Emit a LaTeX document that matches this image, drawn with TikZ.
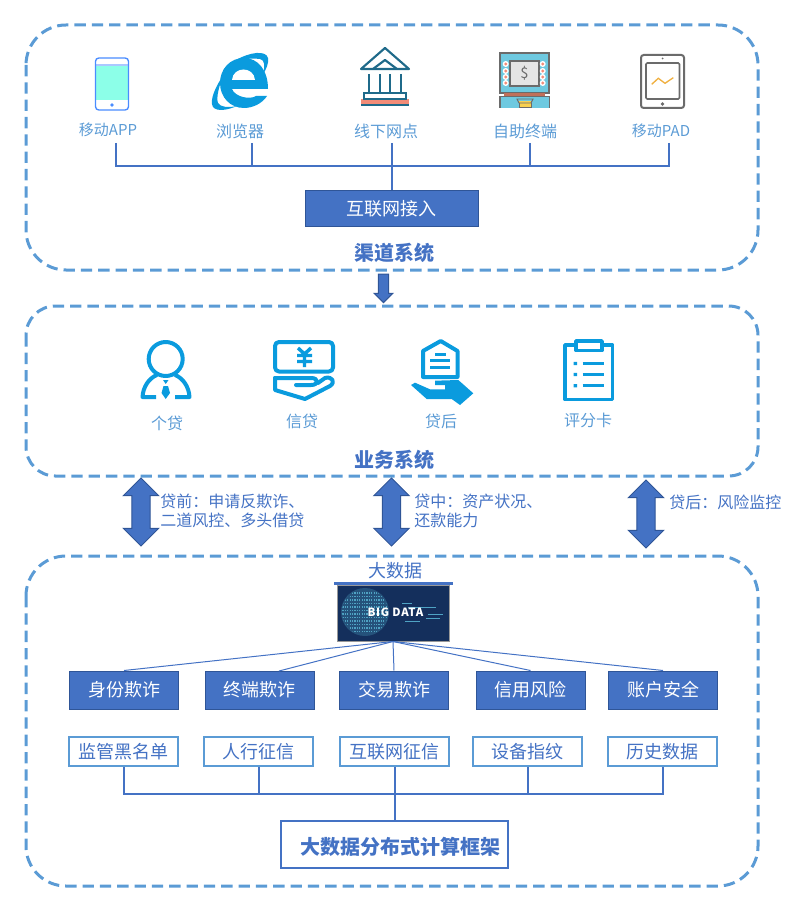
\documentclass[tikz,border=0pt]{standalone}
\usepackage{fontspec}
\setmainfont{Noto Sans CJK SC}
\usetikzlibrary{shapes.arrows}
\definecolor{dashblue}{HTML}{5B9BD5}
\definecolor{mainblue}{HTML}{4472C4}
\definecolor{edgeblue}{HTML}{2F5597}
\definecolor{iconblue}{HTML}{0A9BDE}
\definecolor{bankteal}{HTML}{1F6A8A}
\definecolor{salmon}{HTML}{F28C78}
\definecolor{atmblue}{HTML}{6EC9E0}
\definecolor{padgray}{HTML}{6B6B6B}
\definecolor{globedot}{HTML}{4FA3C4}
\definecolor{picnavy}{HTML}{142F5C}
\tikzstyle{region} = [draw=dashblue, line width=2.25pt, dash pattern=on 8.5pt off 4.5pt, rounded corners=30pt]
\tikzstyle{chan} = [text=dashblue, font=\fontsize{12}{14}\selectfont]
\tikzstyle{title} = [text=mainblue, font=\fontsize{15}{18}\selectfont\bfseries]
\tikzstyle{note} = [text=mainblue, align=left, anchor=west, inner sep=0pt, font=\fontsize{12}{14.25}\selectfont]
\tikzstyle{solid box} = [draw=edgeblue, fill=mainblue, line width=0.75pt, text=white, inner sep=0pt, font=\fontsize{13.5}{16}\selectfont]
\tikzstyle{risk} = [solid box, minimum width=81.75pt, minimum height=28.5pt]
\tikzstyle{source} = [draw=dashblue, fill=white, line width=1.5pt, text=mainblue, inner sep=0pt, minimum width=81.75pt, minimum height=21.75pt, font=\fontsize{13.5}{16}\selectfont]
\tikzstyle{link} = [draw=mainblue, line width=1.5pt]
\tikzstyle{fan} = [draw=mainblue, line width=0.75pt]
\tikzstyle{updown} = [double arrow, draw=edgeblue, fill=mainblue, line width=0.75pt, minimum height=51pt, minimum width=25.5pt, inner sep=6.4pt, double arrow head extend=6.4pt, shape border rotate=90]
\tikzstyle{icon} = [draw=iconblue, line width=3pt, line join=round]
\begin{document}
\begin{tikzpicture}[x=0.75pt, y=-0.75pt]
\useasboundingbox (0, 0) rectangle (786, 902);
% three regions
\draw [region] (26, 25) rectangle (758, 270);
\draw [region, rounded corners=22pt] (26, 306) rectangle (758, 476);
\draw [region] (26, 556) rectangle (758, 886);

% phone
\draw [draw=none, fill=white] (96, 58) rectangle (128, 110);
\fill [fill={rgb,255:red,140;green,255;blue,232}] (96, 66) rectangle (128, 100);
\fill [fill={rgb,255:red,170;green,200;blue,255}] (96, 64) rectangle (128, 66);
\draw [draw={rgb,255:red,74;green,140;blue,255}, line width=1pt, rounded corners=2.5pt] (95.5, 58) rectangle (128.5, 110);
\fill [fill={rgb,255:red,74;green,140;blue,255}] (112, 105) circle [radius=1.8];

% browser logo
\fill [iconblue] (244, 58) .. controls (258, 58) and (268, 70) .. (268, 89) -- (232, 89) .. controls (235, 97) and (250, 100) .. (256, 96) -- (267, 96) .. controls (262, 104) and (252, 108) .. (244, 108) .. controls (230, 108) and (220, 97) .. (220, 83) .. controls (220, 69) and (230, 58) .. (244, 58) -- cycle;
\fill [white] (232, 80) .. controls (233, 66) and (254, 66) .. (255, 80) -- cycle;
\fill [iconblue] (236, 60) .. controls (250, 52) and (266, 50) .. (268, 58) .. controls (269, 63) and (266, 70) .. (263, 74) .. controls (265, 66) and (265, 60) .. (260, 59) .. controls (254, 58) and (246, 59) .. (236, 60) -- cycle;
\fill [iconblue] (224, 74) .. controls (216, 86) and (209, 100) .. (213, 107) .. controls (217, 112) and (228, 110) .. (237, 106) .. controls (228, 108) and (220, 107) .. (218, 103) .. controls (216, 97) and (219, 86) .. (224, 74) -- cycle;

% bank
\fill [salmon] (361, 99) rectangle (409, 105);
\draw [draw=bankteal, line width=1.6pt, line join=round] (361, 69) -- (385, 48) -- (409, 69) -- cycle;
\draw [draw=bankteal, line width=1.6pt, line join=round] (373, 69) -- (385, 60) -- (397, 69);
\draw [draw=bankteal, line width=1.6pt] (369, 74) -- (369, 93) (380, 74) -- (380, 93) (390, 74) -- (390, 93) (401, 74) -- (401, 93);
\draw [draw=bankteal, fill=white, line width=1.6pt] (364, 93) rectangle (406, 99);
\draw [draw=bankteal, line width=1.6pt] (361, 105) -- (409, 105);

% atm
\draw [draw=padgray, fill=atmblue, line width=0.8pt] (500, 53) rectangle (549, 93);
\fill [fill={rgb,255:red,192;green,112;blue,90}] (504, 93) rectangle (545, 96.5);
\draw [draw=padgray, fill=atmblue, line width=0.8pt] (500, 96.5) -- (500, 108) (500, 96.5) -- (549, 96.5) -- (549, 108);
\fill [atmblue] (500.5, 97) rectangle (548.5, 108);
\draw [draw=padgray, fill=black!10, line width=0.8pt] (510, 61) rectangle (539, 86);
\node [text=padgray, inner sep=0pt, font=\fontsize{11}{12}\selectfont] (dollar) at (524.5, 73) {\$};
\fill [white] (505.7, 64) circle [radius=3] (505.7, 71) circle [radius=3] (505.7, 77) circle [radius=3] (505.7, 83) circle [radius=3];
\fill [white] (542.7, 64) circle [radius=3] (542.7, 71) circle [radius=3] (542.7, 77) circle [radius=3] (542.7, 83) circle [radius=3];
\fill [salmon] (505.7, 64) circle [radius=1.6] (505.7, 71) circle [radius=1.6] (505.7, 77) circle [radius=1.6] (505.7, 83) circle [radius=1.6];
\fill [salmon] (542.7, 64) circle [radius=1.6] (542.7, 71) circle [radius=1.6] (542.7, 77) circle [radius=1.6] (542.7, 83) circle [radius=1.6];
\fill [fill={rgb,255:red,248;green,208;blue,80}] (519, 101) rectangle (531, 107);
\draw [draw=padgray, line width=0.7pt] (517, 99) -- (533, 99) -- (531, 103) -- (519, 103) -- cycle;
\draw [draw=padgray, line width=0.5pt] (519, 103) -- (519, 107) -- (531, 107) -- (531, 103);

% tablet
\draw [draw=padgray, line width=1.5pt, rounded corners=2pt] (641, 55) rectangle (684, 108);
\draw [draw=padgray, line width=1.2pt, rounded corners=1pt] (646, 63) rectangle (679.5, 99);
\fill [padgray] (662.5, 58.5) circle [radius=1] (662.5, 104) circle [radius=1.8];
\draw [draw={rgb,255:red,240;green,176;blue,64}, line width=1pt] (651.7, 84.3) -- (658.3, 78.3) -- (665, 83.3) -- (673.3, 77.7);

% channel labels
\node [chan, font=\fontsize{11.25}{14}\selectfont] (app) at (108, 130) {移动APP};
\node [chan] (web) at (240, 131) {浏览器};
\node [chan] (branch) at (386, 131) {线下网点};
\node [chan] (atm) at (525, 131) {自助终端};
\node [chan, font=\fontsize{11.25}{14}\selectfont] (pad) at (661, 131) {移动PAD};
\node [solid box, minimum width=129.75pt, minimum height=27pt] (net) at (391.5, 209) {互联网接入};
\node [title] (channel) at (394, 253) {渠道系统};
\coordinate (appdrop) at (116, 143);
\coordinate (webdrop) at (252, 143);
\coordinate (branchdrop) at (392, 143);
\coordinate (atmdrop) at (530, 143);
\coordinate (paddrop) at (669, 143);
\coordinate (upbus) at (391.5, 166);
\draw [link] (appdrop) |- (upbus);
\draw [link] (webdrop) |- (upbus);
\draw [link] (branchdrop) |- (upbus);
\draw [link] (atmdrop) |- (upbus);
\draw [link] (paddrop) |- (upbus);
\draw [link] (upbus) -- (net.north);

% arrow between channel and business
\node [single arrow, draw=edgeblue, fill=mainblue, line width=0.75pt, minimum height=21.5pt, minimum width=13.5pt, inner sep=3.4pt, single arrow head extend=3.2pt, shape border rotate=270, anchor=tail] (down) at (383.5, 273.5) {};

% person
\draw [icon] (165.7, 359) circle [radius=17];
\draw [icon] (156, 397) -- (142.5, 397) .. controls (143, 387) and (149, 378) .. (157, 375);
\draw [icon] (175, 397) -- (189.5, 397) .. controls (189, 387) and (183, 378) .. (175, 375);
\fill [iconblue] (163, 380) -- (168.5, 380) -- (165.7, 384) -- cycle;
\fill [iconblue] (163.5, 386) -- (168, 386) -- (170, 393) -- (165.7, 399) -- (161.5, 393) -- cycle;

% bill and hand
\draw [icon, rounded corners=3pt] (275, 342) rectangle (333, 371.5);
\draw [icon, line width=2.6pt] (298, 348) -- (304.5, 354) -- (311, 348) (304.5, 354) -- (304.5, 367) (297, 355.5) -- (312, 355.5) (297, 361.5) -- (312, 361.5);
\draw [icon, line cap=round] (275, 378) -- (311, 378) .. controls (319, 378) and (319, 385) .. (311, 385) -- (296, 385);
\draw [icon, line cap=round] (275, 378) -- (275, 390) -- (305, 399) -- (330, 386) .. controls (336, 382) and (332, 376) .. (325, 378) -- (318, 383);

% house in hand
\draw [icon] (440.7, 341) -- (457.5, 351) -- (457.5, 377) -- (423, 377) -- (423, 351) -- cycle;
\draw [icon, line width=2pt] (435, 354.3) -- (446, 354.3) (430, 360.7) -- (450, 360.7) (430, 367.7) -- (450, 367.7);
\fill [iconblue] (411, 385) -- (415, 382.7) -- (430, 389.3) -- (445, 389.3) -- (445, 385) -- (435, 385) -- (435, 380.7) -- (458.3, 380) -- (473.3, 393.3) -- (460, 405) -- (451.7, 399) -- (426.7, 399) -- cycle;

% clipboard
\draw [icon, line width=2.8pt] (565, 345) rectangle (612.5, 399.5);
\draw [icon, line width=2.8pt, fill=white] (576, 341) rectangle (602, 350.5);
\fill [iconblue] (573.5, 361.8) rectangle (577, 365) (573.5, 372.8) rectangle (577, 376) (573.5, 384.2) rectangle (577, 387.4);
\draw [icon, line width=2.2pt] (582.7, 363.3) -- (604, 363.3) (582.7, 374.3) -- (604, 374.3) (582.7, 385.7) -- (604, 385.7);

% business labels
\node [chan] (personal) at (167, 423) {个贷};
\node [chan] (credit) at (302, 421) {信贷};
\node [chan] (after) at (441, 421) {贷后};
\node [chan] (score) at (588, 420) {评分卡};
\node [title] (business) at (394, 460) {业务系统};

% double arrows and their notes
\node [updown] (before) at (141, 512) {};
\node [updown] (during) at (391.5, 512) {};
\node [updown] (later) at (646, 514) {};
\node [note] (beforetxt) at (160, 511) {贷前：申请反欺诈、\\二道风控、多头借贷};
\node [note] (duringtxt) at (414, 511) {贷中：资产状况、\\还款能力};
\node [note] (latertxt) at (669, 502) {贷后：风险监控};

% big data picture
\node [text=mainblue, font=\fontsize{13.5}{16}\selectfont] (bigdata) at (395, 571) {大数据};
\draw [draw=mainblue, line width=2.25pt] (334, 583) -- (453, 583);
\fill [picnavy] (337, 585) rectangle (449, 641);
\fill [globedot, opacity=0.3] (365, 612) circle [radius=24];
\begin{scope}
\clip (365, 612) circle [radius=23];
\draw [draw=globedot, line width=0.9pt, dash pattern=on 0.9pt off 0.9pt] (340, 593) -- (390, 593) (340, 596.5) -- (390, 596.5) (340, 600) -- (390, 600) (340, 603.5) -- (390, 603.5) (340, 607) -- (390, 607) (340, 610.5) -- (390, 610.5) (340, 614) -- (390, 614) (340, 617.5) -- (390, 617.5) (340, 621) -- (390, 621) (340, 624.5) -- (390, 624.5) (340, 628) -- (390, 628) (340, 631.5) -- (390, 631.5);
\end{scope}
\draw [draw=globedot, line width=0.5pt] (402, 603) -- (412, 603) (408, 607) -- (436, 607) (428, 614) -- (443, 614) (426, 618) -- (440, 618) (405, 621) -- (420, 621);
\node [text=white, inner sep=0pt, font=\fontsize{8.5}{10}\selectfont\bfseries\addfontfeature{LetterSpace=6}] (bigtext) at (395.5, 612) {BIG DATA};
\node [draw=black!40, line width=0.75pt, minimum width=84pt, minimum height=42pt, inner sep=0pt] (bigpic) at (393, 613) {};

% risk boxes
\node [risk] (identity) at (124, 690) {身份欺诈};
\node [risk] (terminal) at (259.5, 690) {终端欺诈};
\node [risk] (trade) at (394, 690) {交易欺诈};
\node [risk] (creditrisk) at (530.5, 690) {信用风险};
\node [risk] (account) at (663, 690) {账户安全};
\coordinate (termfan) at (279, 671);
\draw [fan] (bigpic.south) -- (identity.north);
\draw [fan] (bigpic.south) -- (termfan);
\draw [fan] (bigpic.south) -- (trade.north);
\draw [fan] (bigpic.south) -- (creditrisk.north);
\draw [fan] (bigpic.south) -- (account.north);

% data sources
\node [source] (blacklist) at (123.5, 751.5) {监管黑名单};
\node [source] (pboc) at (258.5, 751.5) {人行征信};
\node [source] (webcredit) at (394.5, 751.5) {互联网征信};
\node [source] (device) at (527.5, 751.5) {设备指纹};
\node [source] (history) at (662.5, 751.5) {历史数据};
\node [draw=mainblue, line width=1.5pt, minimum width=170.25pt, minimum height=35.25pt, inner sep=0pt] (frame) at (394.5, 844.5) {};
\node [title] (framelabel) at (400, 847) {大数据分布式计算框架};
\coordinate (lowbus) at (394.5, 794);
\draw [link] (blacklist.south) |- (lowbus);
\draw [link] (pboc.south) |- (lowbus);
\draw [link] (webcredit.south) -- (lowbus);
\draw [link] (device.south) |- (lowbus);
\draw [link] (history.south) |- (lowbus);
\draw [link] (lowbus) -- (frame.north);
\end{tikzpicture}
\end{document}
